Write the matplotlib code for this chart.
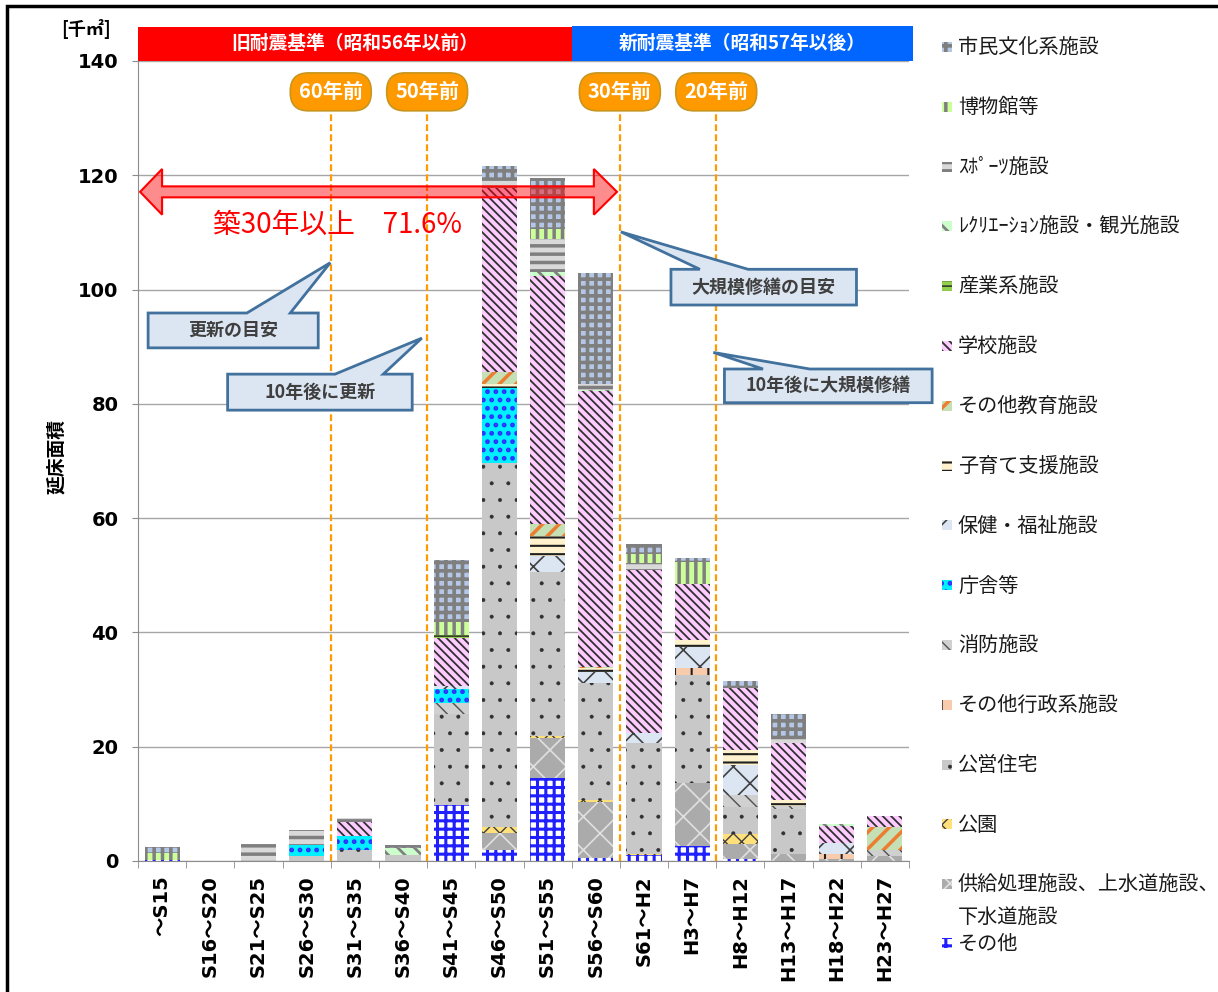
import matplotlib
matplotlib.use("Agg")
import matplotlib.pyplot as plt
from matplotlib.patches import Rectangle, Polygon
import numpy as np

plt.rcParams['font.family'] = ['DejaVu Sans', 'Noto Sans CJK JP']
plt.rcParams['hatch.linewidth'] = 1.0
JP = ['Noto Sans CJK JP', 'DejaVu Sans']

# 建築年度区分
categories = ['～S15', 'S16～S20', 'S21～S25', 'S26～S30', 'S31～S35', 'S36～S40',
              'S41～S45', 'S46～S50', 'S51～S55', 'S56～S60', 'S61～H2', 'H3～H7',
              'H8～H12', 'H13～H17', 'H18～H22', 'H23～H27']

# 施設分類別の延床面積 [千㎡]（積み上げの下から順）
sonota      = [0.2, 0, 0, 0, 0, 0, 9.8, 2.0, 14.6, 0.5, 1.0, 2.6, 0.3, 0, 0, 0]
kyokyu      = [0, 0, 0, 0, 0, 0, 0, 2.9, 7.0, 9.9, 0, 11.1, 2.6, 1.2, 0.3, 0.9]
koen        = [0, 0, 0, 0, 0, 0, 0, 1.0, 0.2, 0.2, 0.3, 0, 1.9, 0, 0, 0]
jutaku      = [0, 0, 0, 0.8, 2.0, 1.0, 16.0, 63.7, 28.7, 20.5, 19.4, 18.8, 4.6, 7.9, 0, 0]
gyosei      = [0, 0, 0, 0, 0, 0, 0, 0, 0, 0, 0, 1.3, 0, 0, 1.0, 0]
shobo       = [0, 0, 0, 0, 0, 0, 1.9, 0, 0, 0, 0, 0, 2.2, 0.6, 0, 1.0]
chosha      = [0, 0, 0, 2.0, 2.4, 0, 2.4, 13.2, 0, 0, 0, 0, 0, 0, 0, 0]
hoken       = [0, 0, 0, 0, 0, 0, 0.6, 0, 2.8, 1.9, 1.75, 3.6, 5.2, 0, 1.9, 0]
kosodate    = [0, 0, 0, 0, 0, 0, 0, 0.7, 3.6, 0.7, 0, 1.2, 2.7, 1.0, 0, 0]
kyoiku_etc  = [0, 0, 0, 0, 0, 0, 0, 2.0, 2.0, 0.2, 0, 0, 0, 0, 0, 4.0]
gakko       = [0, 0, 0, 0, 2.4, 0, 8.3, 32.3, 43.5, 48.3, 28.4, 9.8, 10.8, 9.9, 2.9, 1.9]
sangyo      = [0, 0, 0, 0, 0, 0, 0.5, 0, 0, 0, 0, 0, 0, 0, 0, 0]
recre       = [0, 0, 0, 0, 0, 1.2, 0, 0, 0.7, 0.2, 0, 0, 0, 0, 0.3, 0]
sports      = [0, 0, 3.0, 2.6, 0.7, 0, 0, 1.8, 5.7, 1.0, 1.3, 0, 0, 1.0, 0, 0]
hakubutsu   = [1.2, 0, 0, 0, 0, 0, 2.4, 0, 1.75, 0, 1.5, 4.0, 0, 0, 0, 0]
bunka       = [1.1, 0, 0, 0, 0, 0.6, 10.7, 2.0, 9.0, 19.5, 1.75, 0.6, 1.2, 4.1, 0, 0]

labels = ['その他', '供給処理施設、上水道施設、\n下水道施設', '公園', '公営住宅', 'その他行政系施設',
          '消防施設', '庁舎等', '保健・福祉施設', '子育て支援施設', 'その他教育施設', '学校施設',
          '産業系施設', 'ﾚｸﾘｴｰｼｮﾝ施設・観光施設', 'ｽﾎﾟｰﾂ施設', '博物館等', '市民文化系施設']
values = [sonota, kyokyu, koen, jutaku, gyosei, shobo, chosha, hoken, kosodate,
          kyoiku_etc, gakko, sangyo, recre, sports, hakubutsu, bunka]

# 塗り色, 模様の色, 模様, 模様の線幅
styles = [
    ('white',   '#2020FF', '++',    2.2),
    ('#ABABAB', '#E0E0E0', 'x',     1.2),
    ('#FFE07A', '#404040', 'xx',    1.0),
    ('#C8C8C8', '#303030', '.',     0.4),
    ('#F8CBAD', '#202020', '|',     1.5),
    ('#D0D0D0', '#505050', '\\\\',  1.0),
    ('#00F0FF', '#3030FF', '..',    2.2),
    ('#DCE6F2', '#404040', 'x',     1.2),
    ('#FFF2CC', '#202020', '--',    1.5),
    ('#C5E0B4', '#ED7D31', '//',    2.5),
    ('#FFCCFF', '#303030', '\\\\\\\\', 1.3),
    ('#92D050', '#202020', '---',   1.0),
    ('#CCFFCC', '#808080', '\\\\',  2.0),
    ('#D9D9D9', '#7F7F7F', '--',    2.5),
    ('#CCFF99', '#7F7F7F', '||',    2.5),
    ('#B4C7E7', '#7F7F7F', '++',    2.6),
]


def apply_style(p, st):
    if hasattr(p, 'set_hatch_linewidth'):
        p.set_hatch_linewidth(st[3])


fig = plt.figure(figsize=(12.18, 9.92), dpi=100)
ax = fig.add_axes([138 / 1218, 131 / 992, 771 / 1218, 800 / 992])

x = np.arange(len(categories))
bottom = np.zeros(len(categories))
for vals, st in zip(values, styles):
    bars = ax.bar(x, vals, 0.73, bottom=bottom, color=st[0], edgecolor=st[1],
                  hatch=st[2], linewidth=0, zorder=2)
    for b in bars:
        apply_style(b, st)
    bottom += np.array(vals)

ax.set_xlim(-0.5, 15.5)
ax.set_ylim(0, 140)
ax.set_yticks(range(0, 141, 20))
ax.yaxis.grid(True, color='#A6A6A6', lw=1)
ax.set_axisbelow(True)
for s in ['top', 'right']:
    ax.spines[s].set_visible(False)
for s in ['left', 'bottom']:
    ax.spines[s].set_color('#8C8C8C')
ax.tick_params(axis='y', length=4, color='#8C8C8C', labelsize=14, pad=10)
for lbl in ax.get_yticklabels():
    lbl.set_fontweight('bold')
ax.set_xticks(x)
ax.set_xticklabels(categories, rotation=90, fontsize=14, fontweight='bold')
ax.tick_params(axis='x', which='major', length=0, pad=10)
ax.set_xticks(np.arange(-0.5, 16, 1), minor=True)
ax.tick_params(axis='x', which='minor', length=5, color='#8C8C8C')

# 耐震基準の帯
ax.add_patch(Rectangle((-0.5, 140), 9, 6, fc='#FF0000', ec='none', clip_on=False, zorder=5))
ax.add_patch(Rectangle((8.5, 140), 7.08, 6.1, fc='#0066FF', ec='none', clip_on=False, zorder=5))
ax.text(4.0, 143, '旧耐震基準（昭和56年以前）', color='white', fontsize=13.5, fontweight='bold',
        family=JP, ha='center', va='center', zorder=6)
ax.text(12.04, 143, '新耐震基準（昭和57年以後）', color='white', fontsize=13.5, fontweight='bold',
        family=JP, ha='center', va='center', zorder=6)

# 築年数の目安線
for xv, txt in [(3.5, '60年前'), (5.5, '50年前'), (9.5, '30年前'), (11.5, '20年前')]:
    ax.plot([xv, xv], [0, 134], color='#FF9A00', lw=1.6, ls=(0, (3, 1.5)), zorder=3, clip_on=False)
    ax.text(xv, 134.6, txt, color='white', fontsize=14.5, fontweight='bold', family=JP,
            ha='center', va='center', zorder=7,
            bbox=dict(boxstyle='round,pad=0.42,rounding_size=0.9', fc='#FF9900', ec='#C8961E', lw=1.2))

# 築30年以上の矢印
arrow = [(-0.456, 117.1), (0.0, 121.1), (0.0, 118.06), (8.96, 118.06), (8.96, 121.1),
         (9.44, 117.1), (8.96, 113.1), (8.96, 116.14), (0.0, 116.14), (0.0, 113.1)]
ax.add_patch(Polygon(arrow, closed=True, fc=(1, 0, 0, 0.45), ec='#FF0000', lw=1.5,
                     zorder=6, clip_on=False))
ax.text(1.06, 111.3, '築30年以上　71.6%', color='#FF0000', fontsize=20, family=JP,
        ha='left', va='center', zorder=7)


def callout(x0, x1, y0, y1, t0, t1, tip, label):
    verts = [(x0, y0), (x1, y0), (x1, y1), (t1, y1), tip, (t0, y1), (x0, y1)]
    ax.add_patch(Polygon(verts, closed=True, fc='#DCE6F2', ec='#41719C', lw=2,
                         zorder=6, clip_on=False, joinstyle='miter'))
    ax.text((x0 + x1) / 2, (y0 + y1) / 2, label, color='#3F3F3F', fontsize=13,
            fontweight='bold', family=JP, ha='center', va='center', zorder=7)


callout(-0.29, 3.24, 89.8, 95.9, 1.76, 2.66, (3.49, 104.7), '更新の目安')
callout(1.36, 5.19, 78.9, 85.2, 3.59, 4.59, (5.39, 91.5), '10年後に更新')
callout(10.56, 14.41, 97.3, 103.55, 11.16, 12.16, (9.52, 110.1), '大規模修繕の目安')
callout(11.67, 15.98, 80.2, 86.1, 12.47, 13.44, (11.44, 89.0), '10年後に大規模修繕')

# 単位と軸ラベル
fig.text(86 / 1218, 1 - 29 / 992, '[千㎡]', fontsize=13, fontweight='bold', family=JP,
         ha='center', va='center')
fig.text(57 / 1218, 1 - 456 / 992, '延床面積', fontsize=13.5, fontweight='bold', family=JP,
         rotation=90, ha='center', va='center')

# 凡例（上から市民文化系施設）
W, H = 1218, 992
legend_y = [47 + 59.8 * i for i in range(15)] + [943]
for i, (lab, st) in enumerate(zip(labels[::-1], styles[::-1])):
    yc = legend_y[i]
    r = Rectangle((942 / W, 1 - (yc + 5) / H), 10 / W, 10 / H, transform=fig.transFigure,
                  fc=st[0], ec=st[1], hatch=st[2], lw=0)
    apply_style(r, st)
    fig.add_artist(r)
    if '\n' in lab:
        first, second = lab.split('\n')
        fig.text(958 / W, 1 - (yc + 1) / H, first, fontsize=14.5, family=JP, color='#1A1A1A', va='center')
        fig.text(958 / W, 1 - (yc + 34) / H, second, fontsize=14.5, family=JP, color='#1A1A1A', va='center')
    else:
        fig.text(958 / W, 1 - (yc + 1) / H, lab, fontsize=14.5, family=JP, color='#1A1A1A', va='center')

# 外枠
fig.add_artist(Rectangle((7 / W, -0.05), 1.1, 1.05 - 6 / H, transform=fig.transFigure,
                         fill=False, ec='black', lw=2.5))

fig.savefig('out.png', dpi=100)
